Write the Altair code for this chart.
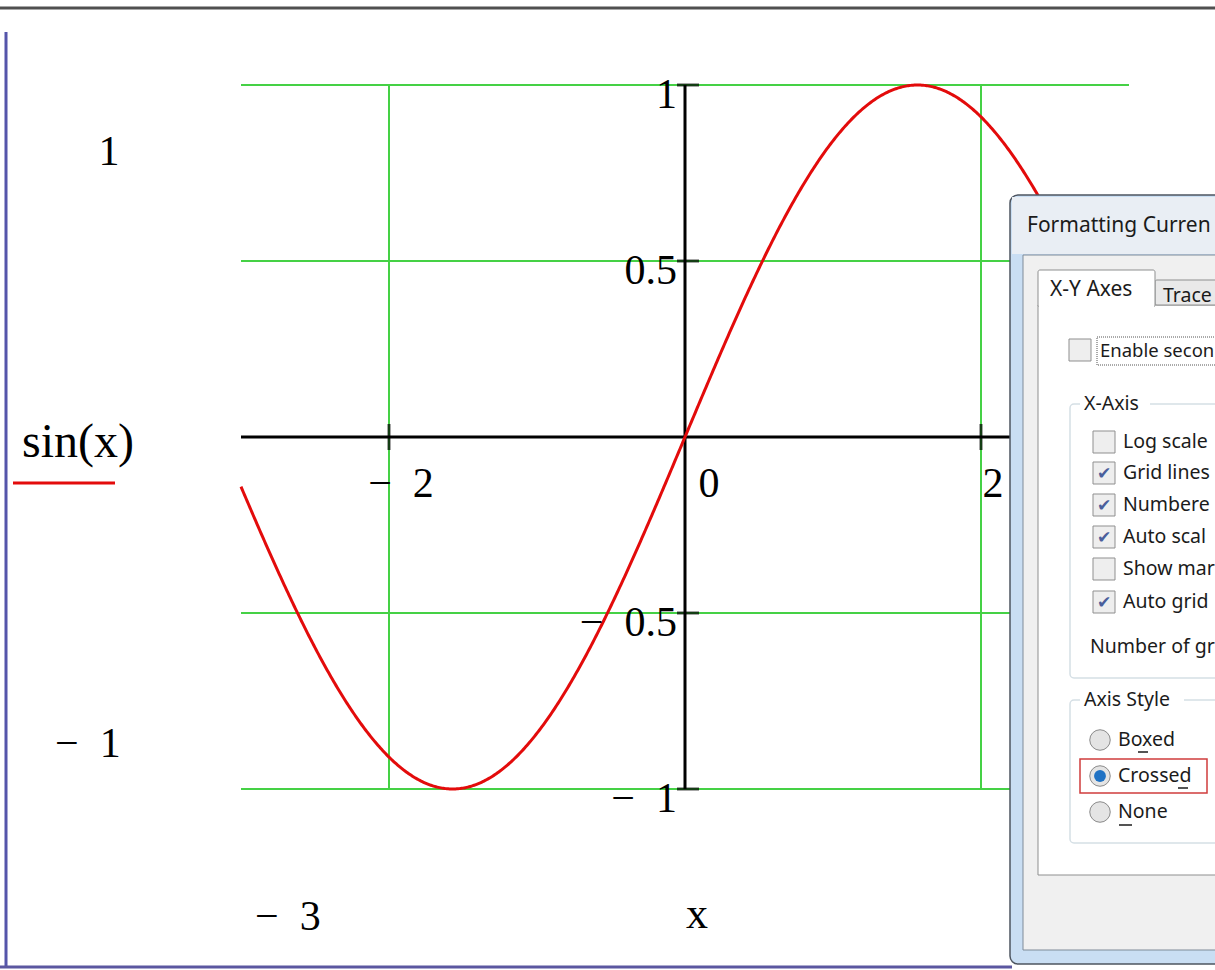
import altair as alt
import numpy as np
import pandas as pd

W, H = 1215, 970

# ---- plot content -------------------------------------------------------
x_range = [-3, 3]
y_range = [-1, 1]
x_samples = np.linspace(x_range[0], x_range[1], 721)
curve = pd.DataFrame({"x": x_samples, "y": np.sin(x_samples)})

x_grid = [-2, 2]
y_grid = [-1, -0.5, 0.5, 1]
x_tick_vals = [-2, 2]
x_tick_text = ["\u2212\u2002" + "2", "2"]
y_tick_vals = [1, 0.5, -0.5, -1]
y_tick_text = ["1", "0.5", "\u2212\u2002" + "0.5", "\u2212\u2002" + "1"]

# ---- page geometry (pixels) --------------------------------------------
ORIGIN_X, ORIGIN_Y = 685, 437
PX_PER_X, PX_PER_Y = 148, 352
XS = alt.Scale(domain=[-ORIGIN_X / PX_PER_X, (W - ORIGIN_X) / PX_PER_X], nice=False, zero=False)
YS = alt.Scale(domain=[-(H - ORIGIN_Y) / PX_PER_Y, ORIGIN_Y / PX_PER_Y], nice=False, zero=False)

SERIF = "Liberation Serif"
UI = "Noto Sans"
UI_SIZE = 19.5
INK = "#000000"
GREEN = "#45d145"
RED = "#e30b0b"

ONE = pd.DataFrame({"k": [0]})


def X(field):
    return alt.X(field, type="quantitative", scale=XS, axis=None)


def Y(field):
    return alt.Y(field, type="quantitative", scale=YS, axis=None)


def box(x1, y1, x2, y2, fill=None, stroke=None, sw=1, r=0, dash=None):
    kw = {}
    if fill:
        kw["fill"] = fill
    else:
        kw["fillOpacity"] = 0
    if stroke:
        kw["stroke"] = stroke
        kw["strokeWidth"] = sw
    if r:
        kw["cornerRadius"] = r
    if dash:
        kw["strokeDash"] = dash
    return alt.Chart(ONE).mark_rect(**kw).encode(
        x=alt.value(x1), x2=alt.value(x2), y=alt.value(y1), y2=alt.value(y2)
    )


def hline(x1, x2, y, color, w=1):
    return alt.Chart(ONE).mark_rule(color=color, strokeWidth=w).encode(
        x=alt.value(x1), x2=alt.value(x2), y=alt.value(y)
    )


def vline(x, y1, y2, color, w=1):
    return alt.Chart(ONE).mark_rule(color=color, strokeWidth=w).encode(
        x=alt.value(x), y=alt.value(y1), y2=alt.value(y2)
    )


def txt(s, x, y, size=UI_SIZE, font=UI, align="left", baseline="middle", color="#1b1b1b"):
    return alt.Chart(ONE).mark_text(
        text=s, align=align, baseline=baseline, font=font, fontSize=size, color=color
    ).encode(x=alt.value(x), y=alt.value(y))


def dot(x, y, size, fill, stroke=None):
    kw = {"fill": fill, "opacity": 1, "size": size}
    if stroke:
        kw["stroke"] = stroke
        kw["strokeWidth"] = 1
    return alt.Chart(ONE).mark_circle(**kw).encode(x=alt.value(x), y=alt.value(y))


layers = []

# green grid
vgrid = pd.DataFrame({"gx": x_grid, "y0": y_range[0], "y1": y_range[1]})
hgrid = pd.DataFrame({"gy": y_grid, "x0": x_range[0], "x1": x_range[1]})
layers.append(alt.Chart(vgrid).mark_rule(color=GREEN, strokeWidth=2).encode(
    x=X("gx"), y=Y("y0"), y2="y1"))
layers.append(alt.Chart(hgrid).mark_rule(color=GREEN, strokeWidth=2).encode(
    x=X("x0"), x2="x1", y=Y("gy")))

# crossed axes
xaxis = pd.DataFrame({"x0": [x_range[0]], "x1": [x_range[1]], "y": [0]})
yaxis = pd.DataFrame({"x": [0], "y0": [y_range[0]], "y1": [y_range[1]]})
layers.append(alt.Chart(xaxis).mark_rule(color=INK, strokeWidth=3).encode(
    x=X("x0"), x2="x1", y=Y("y")))
layers.append(alt.Chart(yaxis).mark_rule(color=INK, strokeWidth=3).encode(
    x=X("x"), y=Y("y0"), y2="y1"))

# tick marks
xt = pd.DataFrame({"x": x_tick_vals, "y": 0, "label": x_tick_text})
yt = pd.DataFrame({"x": 0, "y": y_tick_vals, "label": y_tick_text})
layers.append(alt.Chart(xt).mark_tick(orient="vertical", size=26, thickness=3, color=INK).encode(
    x=X("x"), y=Y("y")))
layers.append(alt.Chart(yt).mark_tick(orient="horizontal", size=22, thickness=3, color=INK,
                                      xOffset=3).encode(x=X("x"), y=Y("y")))

# the curve
layers.append(alt.Chart(curve).mark_line(color=RED, strokeWidth=3).encode(
    x=X("x"), y=Y("y")))

# tick labels
layers.append(alt.Chart(xt).mark_text(font=SERIF, fontSize=42, align="center", baseline="alphabetic",
                                      dx=12, dy=60, color=INK).encode(
    x=X("x"), y=Y("y"), text="label"))
layers.append(alt.Chart(pd.DataFrame({"x": [0], "y": [0], "label": ["0"]})).mark_text(
    font=SERIF, fontSize=42, align="center", baseline="alphabetic", dx=24, dy=60, color=INK).encode(
    x=X("x"), y=Y("y"), text="label"))
layers.append(alt.Chart(yt).mark_text(font=SERIF, fontSize=42, align="right", baseline="alphabetic",
                                      dx=-8, dy=23, color=INK).encode(
    x=X("x"), y=Y("y"), text="label"))

# range limits and names around the plot
layers += [
    txt("1", 109, 165, 42, SERIF, "center", "alphabetic", INK),
    txt("sin(x)", 22, 457, 48, SERIF, "left", "alphabetic", INK),
    hline(13, 115, 483, RED, 3),
    txt("\u2212\u2002" + "1", 55, 757, 42, SERIF, "left", "alphabetic", INK),
    txt("\u2212\u2002" + "3", 255, 930, 42, SERIF, "left", "alphabetic", INK),
    txt("x", 697, 928, 44, SERIF, "center", "alphabetic", INK),
]

# worksheet edges
layers += [
    hline(0, W, 8, "#505050", 3),
    vline(6, 32, 966, "#5555aa", 3),
    hline(0, 1012, 967, "#5b57a0", 3),
]

# ---- formatting dialog -------------------------------------------------
PANEL = "#ffffff"
BORDER = "#8e8f8f"
GROUP = "#d5dfe5"
layers += [
    box(1010, 195, 1260, 964, fill="#c9def3", stroke="#4d5560", sw=1.5, r=8),
    box(1012, 197, 1260, 254, fill="#e9eef4"),
    txt("Formatting Curren", 1027, 226, 21),
    box(1023, 255, 1260, 950, fill="#f0f0f0", stroke="#7f8b98", sw=1),
    box(1038, 305, 1260, 875, fill=PANEL, stroke=BORDER, sw=1),
    box(1155, 280, 1260, 305, fill="#e9e9e9", stroke=BORDER, sw=1, r=2),
    box(1038, 270, 1155, 307, fill=PANEL, stroke=BORDER, sw=1, r=2),
    box(1039, 300, 1154, 308, fill=PANEL),
    txt("X-Y Axes", 1050, 290, 21),
    txt("Trace", 1163, 296),
    # secondary axis checkbox with focus rectangle
    box(1069, 339, 1091, 361, fill="#eeeeee", stroke="#8f8f8f", sw=1),
    box(1097, 337, 1240, 365, stroke="#555555", sw=1, dash=[1, 1]),
    txt("Enable secon", 1100, 351, 18.5),
    # X-Axis group
    box(1070, 404, 1260, 678, stroke=GROUP, sw=1.5, r=4),
    box(1080, 394, 1150, 414, fill=PANEL),
    txt("X-Axis", 1084, 404),
]

check_labels = ["Log scale", "Grid lines", "Numbere", "Auto scal", "Show mar", "Auto grid"]
check_state = [False, True, True, True, False, True]
check_rows = [442, 473, 505, 537, 569, 602]
for label, on, cy in zip(check_labels, check_state, check_rows):
    layers.append(box(1093, cy - 11, 1115, cy + 11, fill="#eeeeee", stroke="#8f8f8f", sw=1))
    if on:
        layers.append(txt("\u2714", 1104, cy + 1, 17, "DejaVu Sans", "center", "middle", "#4a5f9c"))
    layers.append(txt(label, 1123, cy))

layers += [
    txt("Number of gr", 1090, 647),
    # Axis Style group
    box(1070, 700, 1260, 843, stroke=GROUP, sw=1.5, r=4),
    box(1080, 690, 1184, 710, fill=PANEL),
    txt("Axis Style", 1084, 700),
]

radio_labels = ["Boxed", "Crossed", "None"]
radio_rows = [740, 776, 812]
radio_on = [False, True, False]
for label, cy, on in zip(radio_labels, radio_rows, radio_on):
    layers.append(dot(1100, cy, 420, "#e4e4e4", "#8a8a8a"))
    if on:
        layers.append(dot(1100, cy, 140, "#1f72c4"))
    layers.append(txt(label, 1118, cy))

layers += [
    hline(1138, 1148, 752, "#1b1b1b", 1.5),
    hline(1178, 1188, 788, "#1b1b1b", 1.5),
    hline(1119, 1132, 825, "#1b1b1b", 1.5),
    box(1080, 759, 1207, 793, stroke="#d03c3c", sw=1.5),
]

chart = alt.layer(*layers).properties(
    width=W, height=H, padding=0,
    autosize=alt.AutoSizeParams(type="none"),
    background="white",
).configure_view(strokeWidth=0)

chart.save("out.html", embed_options={"renderer": "svg", "actions": False})
